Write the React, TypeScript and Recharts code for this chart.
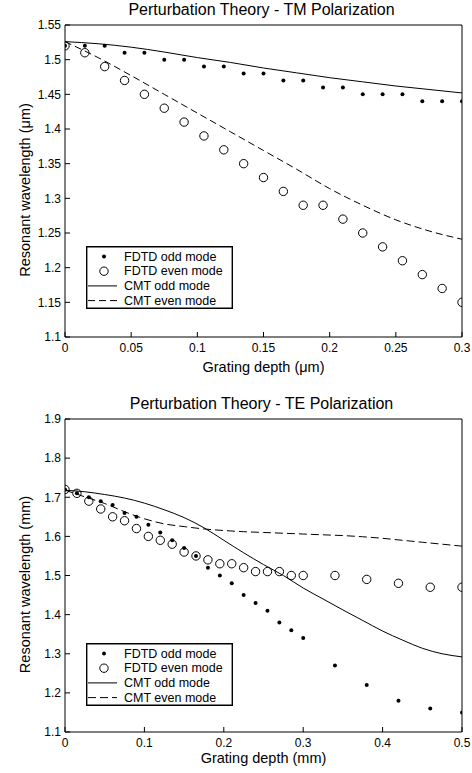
import React from "react";
import { ComposedChart, Line, Scatter, XAxis, YAxis, Label } from "recharts";

const FONT = '"Liberation Sans", Arial, Helvetica, sans-serif';

// TM polarization (top panel), grating depth in um
const TM_FDTD_X = [0, 0.015, 0.03, 0.045, 0.06, 0.075, 0.09, 0.105, 0.12, 0.135, 0.15, 0.165, 0.18, 0.195, 0.21, 0.225, 0.24, 0.255, 0.27, 0.285, 0.3];
const TM_FDTD_ODD = [1.52, 1.52, 1.52, 1.51, 1.51, 1.5, 1.5, 1.49, 1.49, 1.48, 1.48, 1.47, 1.47, 1.46, 1.46, 1.45, 1.45, 1.45, 1.44, 1.44, 1.44];
const TM_FDTD_EVEN = [1.52, 1.51, 1.49, 1.47, 1.45, 1.43, 1.41, 1.39, 1.37, 1.35, 1.33, 1.31, 1.29, 1.29, 1.27, 1.25, 1.23, 1.21, 1.19, 1.17, 1.15];
const TM_CMT_X = [0, 0.025, 0.05, 0.075, 0.1, 0.125, 0.15, 0.175, 0.2, 0.225, 0.25, 0.275, 0.3];
const TM_CMT_ODD = [1.526, 1.523, 1.518, 1.511, 1.503, 1.496, 1.488, 1.481, 1.474, 1.468, 1.462, 1.457, 1.452];
const TM_CMT_EVEN = [1.526, 1.503, 1.477, 1.45, 1.423, 1.396, 1.369, 1.342, 1.314, 1.29, 1.269, 1.253, 1.241];
const TM_X_TICKS = [0, 0.05, 0.1, 0.15, 0.2, 0.25, 0.3];
const TM_Y_TICKS = [1.1, 1.15, 1.2, 1.25, 1.3, 1.35, 1.4, 1.45, 1.5, 1.55];

// TE polarization (bottom panel), grating depth in mm
const TE_FDTD_X = [0, 0.015, 0.03, 0.045, 0.06, 0.075, 0.09, 0.105, 0.12, 0.135, 0.15, 0.165, 0.18, 0.195, 0.21, 0.225, 0.24, 0.255, 0.27, 0.285, 0.3, 0.34, 0.38, 0.42, 0.46, 0.5];
const TE_FDTD_ODD = [1.72, 1.71, 1.7, 1.69, 1.68, 1.66, 1.65, 1.63, 1.61, 1.59, 1.57, 1.55, 1.52, 1.5, 1.48, 1.45, 1.43, 1.41, 1.38, 1.36, 1.34, 1.27, 1.22, 1.18, 1.16, 1.15];
const TE_FDTD_EVEN = [1.72, 1.71, 1.69, 1.67, 1.65, 1.64, 1.62, 1.6, 1.59, 1.58, 1.56, 1.55, 1.54, 1.53, 1.53, 1.52, 1.51, 1.51, 1.51, 1.5, 1.5, 1.5, 1.49, 1.48, 1.47, 1.47];
const TE_CMT_X = [0, 0.025, 0.05, 0.075, 0.1, 0.125, 0.15, 0.175, 0.2, 0.225, 0.25, 0.275, 0.3, 0.325, 0.35, 0.375, 0.4, 0.425, 0.45, 0.475, 0.5];
const TE_CMT_ODD = [1.718, 1.714, 1.707, 1.698, 1.685, 1.668, 1.648, 1.622, 1.59, 1.558, 1.528, 1.5, 1.468, 1.44, 1.412, 1.385, 1.358, 1.335, 1.314, 1.3, 1.292];
const TE_CMT_EVEN = [1.718, 1.701, 1.684, 1.663, 1.645, 1.632, 1.625, 1.619, 1.615, 1.612, 1.61, 1.608, 1.606, 1.604, 1.602, 1.599, 1.595, 1.59, 1.585, 1.58, 1.575];
const TE_X_TICKS = [0, 0.1, 0.2, 0.3, 0.4, 0.5];
const TE_Y_TICKS = [1.1, 1.2, 1.3, 1.4, 1.5, 1.6, 1.7, 1.8, 1.9];

const LEGEND_LABELS = ["FDTD odd mode", "FDTD even mode", "CMT odd mode", "CMT even mode"];

const toPoints = (xs: number[], ys: number[]) => xs.map((x, i) => ({ x, y: ys[i] }));

const DotShape = (props: any) => <circle cx={props.cx} cy={props.cy} r={2} fill="#000" />;
const RingShape = (props: any) => (
  <circle cx={props.cx} cy={props.cy} r={4.2} fill="none" stroke="#000" strokeWidth={1} />
);
const NoShape = () => <g />;

// boxed legend, four rows, laid over the plot
function LegendBox({ dash, left, top }: { dash: string; left: number; top: number }) {
  const W = 147;
  const H = 63;
  const rowY = (i: number) => 10.5 + i * 14.7;
  return (
    <svg
      width={W}
      height={H}
      style={{ position: "absolute", left, top, zIndex: 5, display: "block" }}
    >
      <rect x={0} y={0} width={W} height={H} fill="#fff" />
      {LEGEND_LABELS.map((label, i) => {
        const y = rowY(i);
        let marker;
        if (i === 0) marker = <circle cx={18} cy={y} r={2} fill="#000" />;
        else if (i === 1) marker = <circle cx={18} cy={y} r={4.2} fill="none" stroke="#000" />;
        else if (i === 2) marker = <line x1={2} y1={y} x2={31} y2={y} stroke="#000" />;
        else marker = <line x1={2} y1={y} x2={31} y2={y} stroke="#000" strokeDasharray={dash} />;
        return (
          <g key={label}>
            {marker}
            <text x={38} y={y} dominantBaseline="central" fontSize={12.5} fontFamily={FONT} fill="#000">
              {label}
            </text>
          </g>
        );
      })}
      <line x1={0} y1={0.7} x2={W} y2={0.7} stroke="#000" strokeWidth={1.4} />
      <line x1={0} y1={H - 0.7} x2={W} y2={H - 0.7} stroke="#000" strokeWidth={1.4} />
      <line x1={0.7} y1={0} x2={0.7} y2={H} stroke="#000" strokeWidth={1.4} />
      <line x1={W - 0.7} y1={0} x2={W - 0.7} y2={H} stroke="#000" strokeWidth={1.4} />
    </svg>
  );
}

interface PanelProps {
  title: string;
  xLabel: string;
  yLabel: string;
  height: number;
  top: number;
  bottom: number;
  xLabelOffset: number;
  legendTop: number;
  xDomain: [number, number];
  yDomain: [number, number];
  xTicks: number[];
  yTicks: number[];
  fdtdX: number[];
  fdtdOdd: number[];
  fdtdEven: number[];
  cmtX: number[];
  cmtOdd: number[];
  cmtEven: number[];
  dash: string;
}

function Panel(p: PanelProps) {
  const tickStyle = { fill: "#000", fontSize: 12, fontFamily: FONT };
  // invisible anchor so the mirrored top/right axes (plot frame) get rendered
  const frameAnchor = [
    { x: p.xDomain[0], y: p.yDomain[0] },
    { x: p.xDomain[1], y: p.yDomain[1] },
  ];
  return (
    <div style={{ position: "relative", width: 472, height: p.height }}>
      <ComposedChart
        width={472}
        height={p.height}
        margin={{ top: p.top - 1, right: 9, bottom: p.bottom, left: 15 }}
        style={{ fontFamily: FONT }}
      >
        <XAxis
          type="number"
          dataKey="x"
          domain={p.xDomain}
          ticks={p.xTicks}
          interval={0}
          allowDataOverflow
          height={30}
          stroke="#000"
          tickSize={-5}
          tickMargin={11}
          tick={tickStyle}
          tickFormatter={(v: number) => String(v)}
        >
          <Label
            content={(lp: any) => {
              const vb = lp.viewBox;
              return (
                <text x={vb.x + vb.width / 2} y={vb.y + p.xLabelOffset} textAnchor="middle" fontSize={14.5} fontFamily={FONT} fill="#000">
                  {p.xLabel}
                </text>
              );
            }}
          />
        </XAxis>
        <XAxis
          xAxisId="top"
          orientation="top"
          type="number"
          dataKey="x"
          domain={p.xDomain}
          ticks={p.xTicks}
          interval={0}
          allowDataOverflow
          height={1}
          stroke="#000"
          tickSize={-5}
          tick={false}
        >
          <Label
            content={(lp: any) => {
              const vb = lp.viewBox;
              return (
                <text x={vb.x + vb.width / 2 - 2} y={vb.y + vb.height - 10} textAnchor="middle" fontSize={16} fontFamily={FONT} fill="#000">
                  {p.title}
                </text>
              );
            }}
          />
        </XAxis>
        <YAxis
          type="number"
          domain={p.yDomain}
          ticks={p.yTicks}
          interval={0}
          allowDataOverflow
          width={50}
          stroke="#000"
          tickSize={-5}
          tickMargin={9}
          tick={tickStyle}
          tickFormatter={(v: number) => String(v)}
        >
          <Label
            content={(lp: any) => {
              const vb = lp.viewBox;
              const cx = vb.x + 10;
              const cy = vb.y + vb.height / 2 + 9;
              return (
                <text
                  x={cx}
                  y={cy}
                  transform={`rotate(-90, ${cx}, ${cy})`}
                  textAnchor="middle"
                  dominantBaseline="central"
                  fontSize={14.5}
                  fontFamily={FONT}
                  fill="#000"
                >
                  {p.yLabel}
                </text>
              );
            }}
          />
        </YAxis>
        <YAxis
          yAxisId="right"
          orientation="right"
          type="number"
          domain={p.yDomain}
          ticks={p.yTicks}
          interval={0}
          allowDataOverflow
          width={1}
          stroke="#000"
          tickSize={-5}
          tick={false}
        />
        <Scatter
          data={frameAnchor}
          dataKey="y"
          xAxisId="top"
          yAxisId="right"
          shape={NoShape}
          legendType="none"
          isAnimationActive={false}
        />
        <Line
          data={toPoints(p.cmtX, p.cmtOdd)}
          dataKey="y"
          type="monotone"
          stroke="#000"
          strokeWidth={1}
          dot={false}
          activeDot={false}
          isAnimationActive={false}
          name="CMT odd mode"
        />
        <Line
          data={toPoints(p.cmtX, p.cmtEven)}
          dataKey="y"
          type="monotone"
          stroke="#000"
          strokeWidth={1}
          strokeDasharray={p.dash}
          dot={false}
          activeDot={false}
          isAnimationActive={false}
          name="CMT even mode"
        />
        <Scatter
          data={toPoints(p.fdtdX, p.fdtdEven)}
          dataKey="y"
          shape={RingShape}
          isAnimationActive={false}
          name="FDTD even mode"
        />
        <Scatter
          data={toPoints(p.fdtdX, p.fdtdOdd)}
          dataKey="y"
          shape={DotShape}
          isAnimationActive={false}
          name="FDTD odd mode"
        />
      </ComposedChart>
      <LegendBox dash={p.dash} left={86} top={p.legendTop} />
    </div>
  );
}

export default function App() {
  return (
    <div style={{ position: "absolute", left: 0, top: 0, width: 472, height: 773, background: "#fff" }}>
      <div style={{ position: "absolute", left: 0, top: 0 }}>
        <Panel
          title="Perturbation Theory - TM Polarization"
          xLabel="Grating depth (μm)"
          yLabel="Resonant wavelength (μm)"
          height={380}
          top={25}
          bottom={13}
          xLabelOffset={35}
          legendTop={246}
          xDomain={[0, 0.3]}
          yDomain={[1.1, 1.55]}
          xTicks={TM_X_TICKS}
          yTicks={TM_Y_TICKS}
          fdtdX={TM_FDTD_X}
          fdtdOdd={TM_FDTD_ODD}
          fdtdEven={TM_FDTD_EVEN}
          cmtX={TM_CMT_X}
          cmtOdd={TM_CMT_ODD}
          cmtEven={TM_CMT_EVEN}
          dash="7 4"
        />
      </div>
      <div style={{ position: "absolute", left: 0, top: 385 }}>
        <Panel
          title="Perturbation Theory - TE Polarization"
          xLabel="Grating depth (mm)"
          yLabel="Resonant wavelength (mm)"
          height={388}
          top={34}
          bottom={11}
          xLabelOffset={31}
          legendTop={258}
          xDomain={[0, 0.5]}
          yDomain={[1.1, 1.9]}
          xTicks={TE_X_TICKS}
          yTicks={TE_Y_TICKS}
          fdtdX={TE_FDTD_X}
          fdtdOdd={TE_FDTD_ODD}
          fdtdEven={TE_FDTD_EVEN}
          cmtX={TE_CMT_X}
          cmtOdd={TE_CMT_ODD}
          cmtEven={TE_CMT_EVEN}
          dash="8 4"
        />
      </div>
    </div>
  );
}
